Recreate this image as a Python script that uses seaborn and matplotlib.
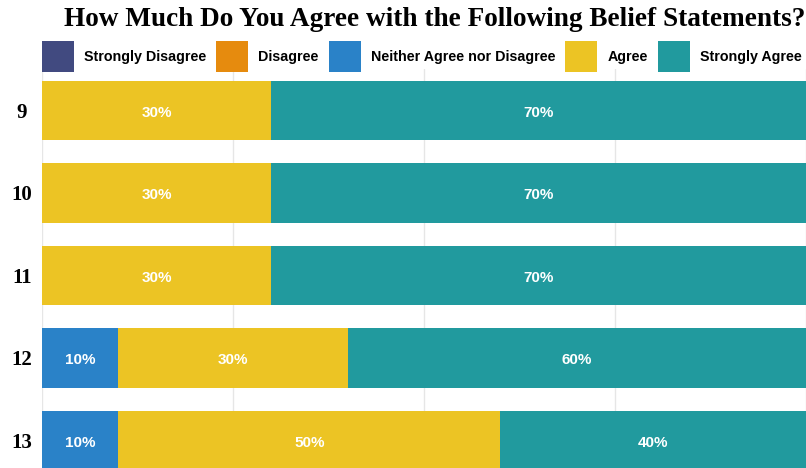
import matplotlib
matplotlib.use("Agg")
import matplotlib.pyplot as plt
from matplotlib.patches import Patch
from matplotlib.font_manager import FontProperties
import numpy as np
import seaborn as sns

# Survey statements (row labels) and response categories
statements = ["9", "10", "11", "12", "13"]
responses = ["Strongly Disagree", "Disagree", "Neither Agree nor Disagree",
             "Agree", "Strongly Agree"]

# Share of respondents (%) per response, one value per statement
strongly_disagree = [0, 0, 0, 0, 0]
disagree = [0, 0, 0, 0, 0]
neither = [0, 0, 0, 10, 10]
agree = [30, 30, 30, 30, 50]
strongly_agree = [70, 70, 70, 60, 40]

palette = ["#414a80", "#e68b0e", "#2a82c8", "#ecc424", "#219a9e"]
title = "How Much Do You Agree with the Following Belief Statements?"

sns.set_theme(style="white")

W, H = 806, 468
fig = plt.figure(figsize=(W / 100, H / 100), dpi=100)
ax = fig.add_axes([42 / W, 1 - 481.75 / H, 764 / W, 412.5 / H])

shares = np.array([strongly_disagree, disagree, neither, agree, strongly_agree])
cum = np.cumsum(shares, axis=0)

# Stacked bars: draw the cumulative totals from the right-most segment inwards
for i in reversed(range(len(responses))):
    sns.barplot(x=cum[i], y=statements, order=statements, orient="h",
                color=palette[i], saturation=1, width=0.72, linewidth=0,
                ax=ax)

# Percent labels centred in each non-empty segment
for i in range(len(responses)):
    for j in range(len(statements)):
        v = shares[i][j]
        if v > 0:
            ax.text(cum[i][j] - v / 2, j + 0.03, f"{v}%", ha="center", va="center",
                    color="white", fontsize=11, fontweight="bold",
                    family="Liberation Sans")

ax.set_xlim(0, 100)
ax.set_ylim(len(statements) - 0.5, -0.5)
ax.set_xticks([0, 25, 50, 75, 100])
ax.xaxis.grid(True, color="#e6e6e6", linewidth=1)
ax.yaxis.grid(False)
ax.set_axisbelow(True)
ax.tick_params(axis="x", labelbottom=False, length=0)
ax.tick_params(axis="y", length=0, pad=14.4)
ax.set_xlabel("")
ax.set_ylabel("")
for lab in ax.get_yticklabels():
    lab.set_ha("center")
    lab.set_fontfamily("Liberation Serif")
    lab.set_fontweight("bold")
    lab.set_fontsize(15)
    lab.set_color("black")
for s in ax.spines.values():
    s.set_visible(False)

fig.text(434.5 / W, 1 - 19 / H, title, ha="center", va="center",
         family="Liberation Serif", fontweight="bold", fontsize=19.6, color="black")

handles = [Patch(facecolor=c, edgecolor="none") for c in palette]
leg = fig.legend(handles, responses, ncol=5, loc="upper left",
                 bbox_to_anchor=(42 / W, 1 - 41 / H), frameon=False,
                 borderpad=0, borderaxespad=0, handlelength=2.24, handleheight=2.96,
                 handletextpad=0.7, columnspacing=0.7,
                 prop=FontProperties(family="Liberation Sans", weight="bold", size=10.3))
for t in leg.get_texts():
    t.set_color("black")

fig.savefig("out.png", dpi=100)
